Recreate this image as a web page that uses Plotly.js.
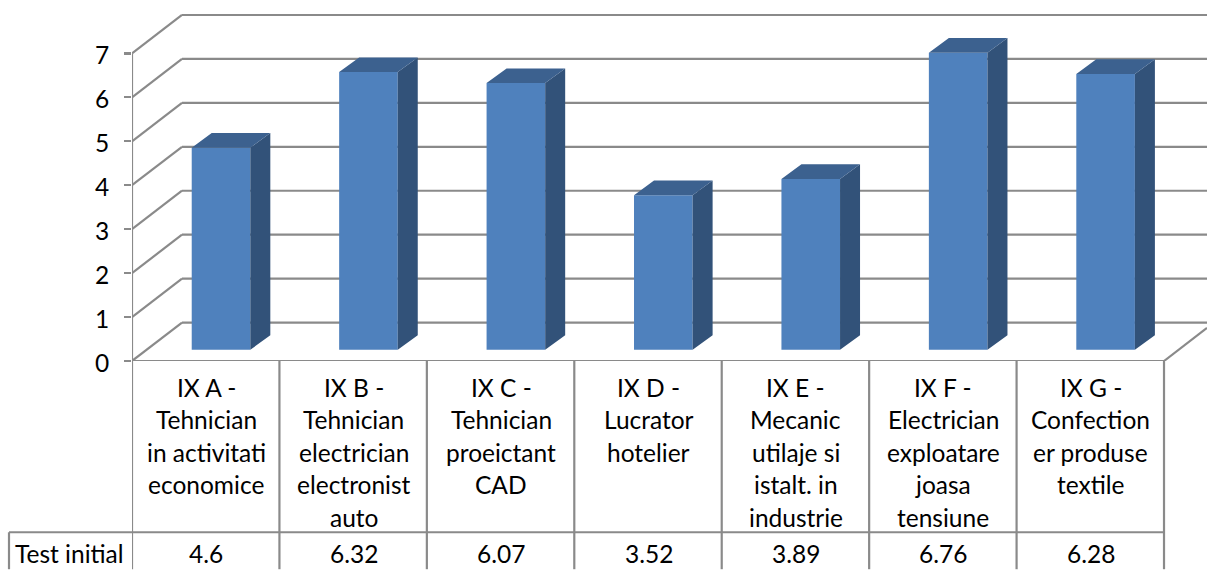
<!DOCTYPE html>
<html>
<head>
<meta charset="utf-8">
<script src="https://cdn.plot.ly/plotly-3.0.1.min.js"></script>
<style>html,body{margin:0;padding:0;background:#fff;overflow:hidden}</style>
</head>
<body>
<div id="chart" style="width:1207px;height:570px"></div>
<script>
const seriesName = 'Test initial';
const categoryLines = [
  ['IX A -', 'Tehnician', 'in activitati', 'economice'],
  ['IX B -', 'Tehnician', 'electrician', 'electronist', 'auto'],
  ['IX C -', 'Tehnician', 'proeictant', 'CAD'],
  ['IX D -', 'Lucrator', 'hotelier'],
  ['IX E -', 'Mecanic', 'utilaje si', 'istalt. in', 'industrie'],
  ['IX F -', 'Electrician', 'exploatare', 'joasa', 'tensiune'],
  ['IX G -', 'Confection', 'er produse', 'textile']
];
const values = [4.6, 6.32, 6.07, 3.52, 3.89, 6.76, 6.28];
const valueLabels = ['4.6', '6.32', '6.07', '3.52', '3.89', '6.76', '6.28'];
const yTicks = [0, 1, 2, 3, 4, 5, 6, 7];

// page geometry (px)
const W = 1207, H = 570, L = 132, AXIS_Y = 361.5, COL = 147.43, UNIT = 44;
const xMax = (W - L) / COL, yMax = AXIS_Y / UNIT;
const paperY = px => (AXIS_Y - px) / AXIS_Y;
const paperX = px => (px - L) / (W - L);

// 3-D look, in axis units
const wallDx = 50 / COL, wallDy = 38.5 / UNIT;
const barLift = 11.2 / UNIT, barShift = 15.3 / COL, barW = 58.6 / COL;
const depthDx = 20 / COL, depthDy = 14.7 / UNIT;

const GRID = '#8a8a8a', FRONT = '#4f81bd', SIDE = '#325279', TOP = '#3c618f';
const TEXT = '#000000', FONT = 'Lato, "Open Sans", sans-serif', FS = 24.5;

const line = (x0, y0, x1, y1, w) => ({
  type: 'line', layer: 'below', xref: 'x', yref: 'y', x0, y0, x1, y1,
  line: {color: GRID, width: w || 2.2}
});
const tableLine = (x0, y0, x1, y1, xref) => ({
  type: 'line', layer: 'above', xref: xref || 'x', yref: 'paper', x0, y0, x1, y1,
  line: {color: GRID, width: 2.2}
});

const shapes = [];
yTicks.forEach(v => {
  shapes.push(line(0, v, wallDx, v + wallDy));
  shapes.push(line(wallDx, v + wallDy, xMax, v + wallDy));
});
shapes.push(line(0, 0, 0, 7));
shapes.push(line(0, 0, 7, 0));
shapes.push(line(7, 0, xMax, (xMax - 7) * wallDy / wallDx));
for (let i = 0; i <= values.length; i++) {
  shapes.push(tableLine(i, 0, i, paperY(H)));
}
shapes.push(tableLine(paperX(9), paperY(533), 7 * COL / (W - L), paperY(533), 'paper'));
shapes.push(tableLine(paperX(9), paperY(533), paperX(9), paperY(H), 'paper'));

const annotations = [];
const LINE_Y = [388, 420.5, 453, 485.5, 518];
const note = (xref, x, yPx, text) => ({
  xref, x, yref: 'paper', y: paperY(yPx), text, showarrow: false,
  xanchor: 'center', yanchor: 'middle',
  font: {family: FONT, size: FS, color: TEXT}
});
const textNudge = 0.5 / COL;
categoryLines.forEach((lines, i) => {
  lines.forEach((t, j) => annotations.push(note('x', i + 0.5 + textNudge, LINE_Y[j], t)));
  annotations.push(note('x', i + 0.5 + textNudge, 554, valueLabels[i]));
});
annotations.push(note('paper', paperX(69), 554, seriesName));

const xc = values.map((_, i) => i + 0.5 + barShift);
const sideX = [], sideY = [], topX = [], topY = [];
values.forEach((v, i) => {
  const xl = xc[i] - barW / 2, xr = xc[i] + barW / 2, t = barLift + v;
  sideX.push(xr, xr + depthDx, xr + depthDx, xr, xr, null);
  sideY.push(barLift, barLift + depthDy, t + depthDy, t, barLift, null);
  topX.push(xl, xl + depthDx, xr + depthDx, xr, xl, null);
  topY.push(t, t + depthDy, t + depthDy, t, t, null);
});

const traces = [
  {type: 'scatter', mode: 'lines', x: sideX, y: sideY, fill: 'toself', fillcolor: SIDE,
   line: {width: 0, color: SIDE}, hoverinfo: 'skip', showlegend: false},
  {type: 'scatter', mode: 'lines', x: topX, y: topY, fill: 'toself', fillcolor: TOP,
   line: {width: 0, color: TOP}, hoverinfo: 'skip', showlegend: false},
  {type: 'bar', name: seriesName, x: xc, y: values, base: barLift, width: barW,
   marker: {color: FRONT, line: {width: 0}}, showlegend: false}
];

const layout = {
  width: W, height: H, showlegend: false,
  margin: {l: L, r: 0, t: 0, b: H - AXIS_Y, pad: 0},
  paper_bgcolor: '#ffffff', plot_bgcolor: '#ffffff',
  xaxis: {range: [0, xMax], showgrid: false, zeroline: false, showline: false,
          showticklabels: false, ticks: '', fixedrange: true},
  yaxis: {range: [0, yMax], tickvals: yTicks, ticktext: yTicks.map(String),
          showgrid: false, zeroline: false, showline: false,
          ticks: 'outside', ticklen: 7, tickwidth: 2.2, tickcolor: GRID,
          tickfont: {family: FONT, size: FS, color: TEXT}, ticklabelstandoff: 10,
          ticklabelshift: 2, fixedrange: true},
  shapes, annotations
};
Plotly.newPlot('chart', traces, layout, {displayModeBar: false, staticPlot: true});
</script>
</body>
</html>
